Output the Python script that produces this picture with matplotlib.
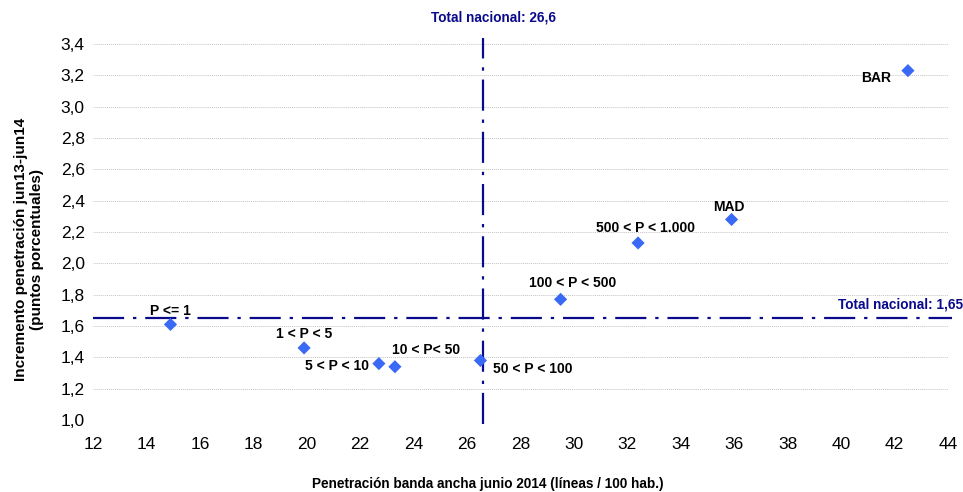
import matplotlib.pyplot as plt

plt.rcParams['font.family'] = ['Liberation Sans', 'DejaVu Sans']

# Municipality size groups and the two largest cities
labels = ['P <= 1', '1 < P < 5', '5 < P < 10', '10 < P< 50', '50 < P < 100',
          '100 < P < 500', '500 < P < 1.000', 'MAD', 'BAR']
penetracion = [14.9, 19.9, 22.7, 23.3, 26.5, 29.5, 32.4, 35.9, 42.5]
incremento = [1.61, 1.46, 1.36, 1.34, 1.38, 1.77, 2.13, 2.28, 3.23]

# national totals
total_pen = 26.6
total_inc = 1.65

# label offsets in points: (dx, dy, ha, va)
offsets = [(0, 10, 'center', 'center'),
           (0, 10, 'center', 'center'),
           (-7, -2, 'right', 'center'),
           (-2, 12, 'left', 'center'),
           (9, -6, 'left', 'center'),
           (9, 12, 'center', 'center'),
           (5, 11, 'center', 'center'),
           (-2, 9, 'center', 'center'),
           (-12, -5, 'right', 'center')]

navy = '#0A0A8C'
blue = '#3A6AF5'

fig = plt.figure(figsize=(9.63, 4.92), dpi=100)
ax = fig.add_axes([93 / 963, 72 / 492, 855 / 963, 376 / 492])

ax.set_xlim(12, 44)
ax.set_ylim(1.0, 3.4)
ax.set_xticks(range(12, 45, 2))
ax.set_yticks([1.0 + 0.2 * i for i in range(13)])
ax.set_yticklabels([f'{1.0 + 0.2 * i:.1f}'.replace('.', ',') for i in range(13)])
ax.tick_params(length=0, labelsize=12.5, pad=6)
ax.tick_params(axis='x', pad=12)
for s in ax.spines.values():
    s.set_visible(False)
ax.grid(axis='y', color='#c4c4c4', linestyle=(0, (1, 1)), linewidth=0.7)
ax.set_axisbelow(True)

dashdot = (0, (14, 4, 1.5, 4))
ax.axvline(total_pen, ymin=-0.01, ymax=1.015, color=navy, lw=1.6,
           linestyle=dashdot, clip_on=False)
ax.plot([12, 44.15], [total_inc, total_inc], color=navy, lw=1.6,
        linestyle=dashdot, clip_on=False)

ax.scatter(penetracion, incremento, marker='D', s=45, color=blue, zorder=3,
           edgecolors='none')

for name, x, y, (dx, dy, ha, va) in zip(labels, penetracion, incremento, offsets):
    ax.annotate(name, (x, y), xytext=(dx, dy), textcoords='offset points',
                ha=ha, va=va, fontsize=10, fontweight='bold')

ax.text(total_pen + 0.4, 3.57, 'Total nacional: 26,6', color=navy,
        fontsize=9.8, fontweight='bold', ha='center', va='center')
ax.text(44.55, total_inc + 0.09, 'Total nacional: 1,65', color=navy,
        fontsize=9.8, fontweight='bold', ha='right', va='center')

fig.text(488 / 963, 1 - 484 / 492,
         'Penetración banda ancha junio 2014 (líneas / 100 hab.)',
         ha='center', va='center', fontsize=9.8, fontweight='bold')
fig.text(29 / 963, 1 - 249 / 492,
         'Incremento penetración jun13-jun14\n(puntos porcentuales)',
         ha='center', va='center', rotation=90, fontsize=11,
         fontweight='bold', linespacing=1.2)

fig.savefig('out.png', dpi=100)
